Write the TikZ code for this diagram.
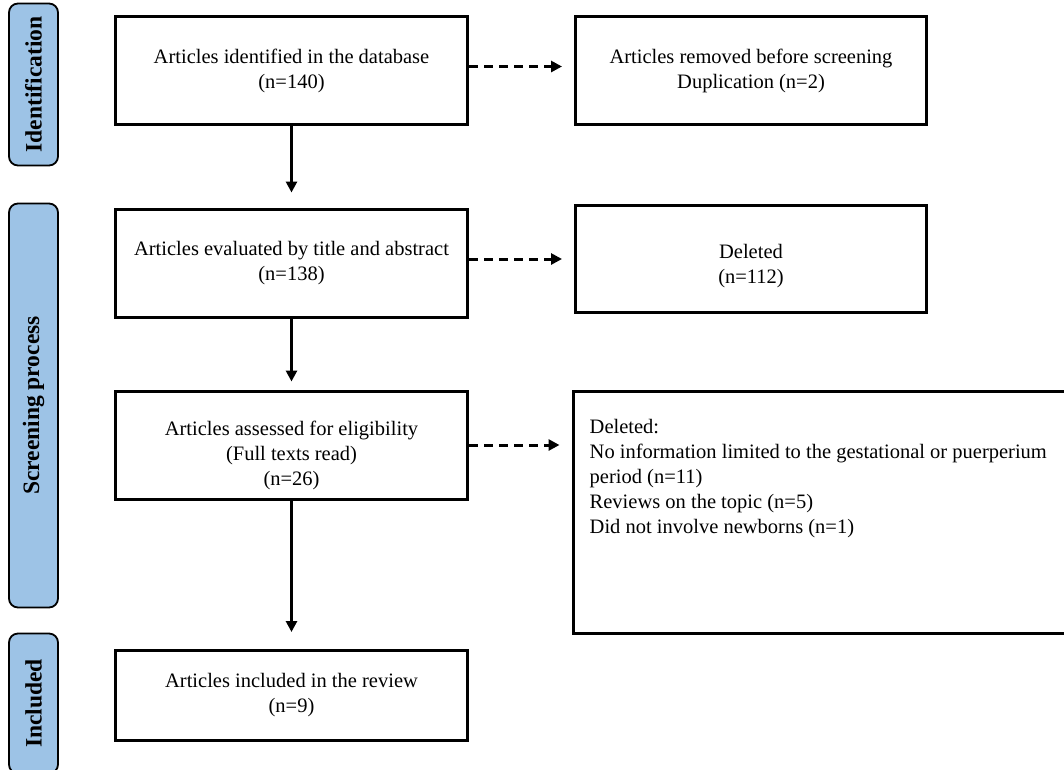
\documentclass[tikz,border=0pt]{standalone}
\usepackage{fontspec}
\setmainfont{Liberation Serif}
\usetikzlibrary{arrows.meta}
\usetikzlibrary{positioning}
\definecolor{phaseblue}{RGB}{157,195,230}
\newcommand{\lowerby}[1]{\rule{0pt}{#1}}

\begin{document}
\begin{tikzpicture}[
	x=1pt, y=-1pt,
  > = {Triangle[length=11pt,width=11pt]},
  every node/.style = {font=\fontsize{20.5}{25}\selectfont},
  box/.style = {draw, line width=3pt, minimum width=352pt, minimum height=108pt, inner sep=0pt, align=center},
  phase/.style = {draw, line width=1.8pt, rounded corners=9pt, fill=phaseblue, rotate=90, minimum height=49pt, inner sep=0pt, font=\fontsize{23.5}{28}\selectfont\bfseries},
  flow/.style = {->, line width=3pt},
  skip/.style = {->, line width=3pt, dash pattern=on 9pt off 6pt, shorten >=12pt}
  ]
	\useasboundingbox (0,0) rectangle (1064,769);

	% phases
	\node[phase, minimum width=162pt] (identphase) at (33.5,84.5) {Identification};
	\node[phase, minimum width=404pt] (screenphase) at (33.5,405.5) {Screening process};
	\node[phase, minimum width=140pt] (inclphase) at (33.5,703.5) {Included};

	% main column
	\node[box] (records) at (291.5,70.5) {Articles identified in the database\\(n=140)};
	\node[box] (screened) at (291.5,263) {Articles evaluated by title and abstract\\(n=138)};
	\node[box] (assessed) at (291.5,445) {\lowerby{35pt}Articles assessed for eligibility\\(Full texts read)\\(n=26)};
	\node[box, minimum height=90pt] (included) at (291.5,695.5) {Articles included in the review\\(n=9)};

	% side column
	\node[box, minimum width=351pt] (removed) at (751,70.5) {Articles removed before screening\\Duplication (n=2)};
	\node[box, minimum width=351pt, minimum height=107pt] (deleted) at (751,259) {\lowerby{28pt}Deleted\\(n=112)};
	\node[box, minimum width=502pt, minimum height=242pt] (excl) at (824,512.5) {};
	\node[below right=29pt and 18pt of excl.north west, inner sep=0pt, align=left] (excltext)
		{Deleted:\\No information limited to the gestational or puerperium\\period (n=11)\\Reviews on the topic (n=5)\\Did not involve newborns (n=1)};

	\draw[flow, shorten >=15pt] (records) -- (screened);
	\draw[flow, shorten >=8pt] (screened) -- (assessed);
	\draw[flow, shorten >=17pt] (assessed) -- (included);

	\draw[skip] ([yshift=4pt]records.east) -- ([yshift=4pt]records.east -| removed.west);
	\draw[skip] (screened.east |- deleted.west) -- (deleted.west);
	\draw[skip] (assessed.east) -- (assessed.east -| excl.west);

\end{tikzpicture}
\end{document}
